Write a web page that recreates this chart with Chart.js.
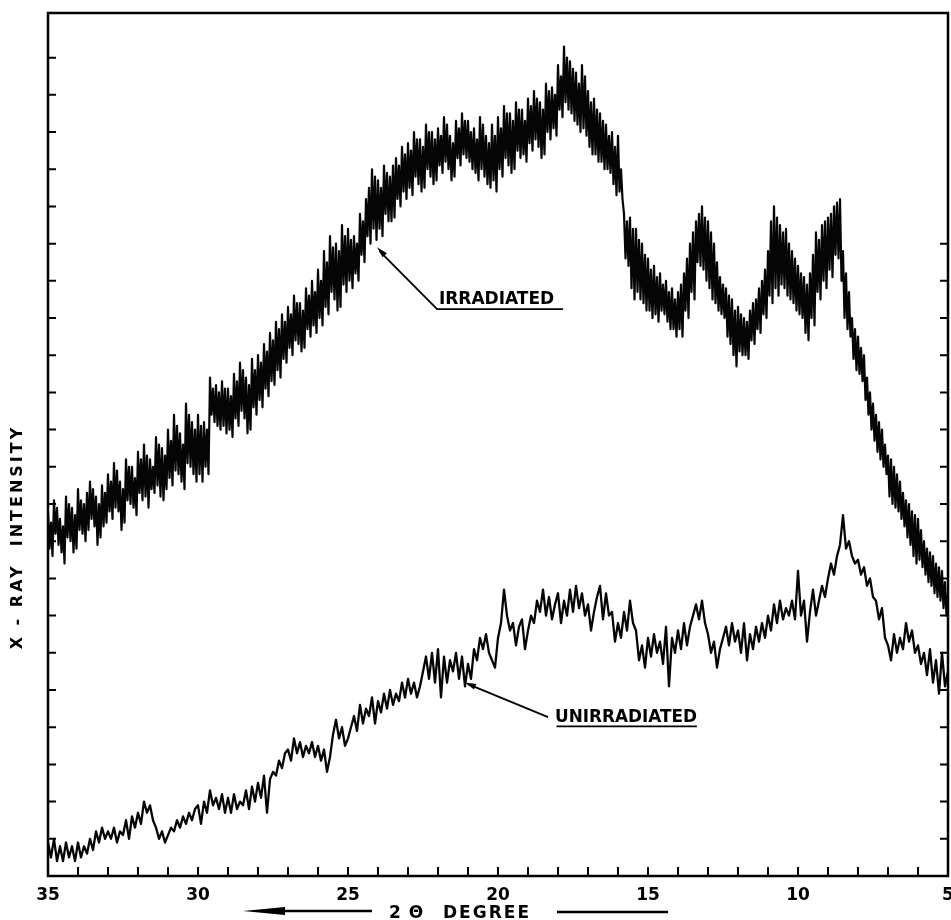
<!DOCTYPE html>
<html>
<head>
<meta charset="utf-8">
<script src="https://cdn.jsdelivr.net/npm/chart.js@4.4.1/dist/chart.umd.min.js"></script>
<style>
  html, body { margin: 0; padding: 0; background: #fff; }
  #wrap { position: relative; width: 951px; height: 920px; }
</style>
</head>
<body>
<div id="wrap"><canvas id="xrd-chart"></canvas></div>
<script>
// 2-theta runs from 35 down to 5 deg
var startDeg = 35;
var irradiatedStep = 0.05;   // irradiated trace read every 0.05 deg
var unirradiatedStep = 0.1;  // unirradiated trace read every 0.1 deg

// intensity, arbitrary units (10 units = one tick division)
var irradiated = [
    98, 88, 95, 86, 101, 92, 99, 89, 96, 87, 94, 84, 102, 91, 100, 90, 99, 87, 97, 88,
    104, 93, 101, 92, 100, 90, 103, 93, 106, 96, 104, 94, 102, 89, 100, 91, 105, 94, 103, 95,
    108, 98, 106, 96, 111, 99, 109, 98, 106, 93, 104, 95, 112, 101, 110, 100, 110, 99, 107, 97,
    114, 103, 112, 101, 116, 102, 113, 99, 112, 104, 110, 103, 118, 105, 116, 102, 115, 101, 113, 104,
    120, 107, 117, 105, 124, 109, 121, 108, 119, 106, 116, 104, 127, 111, 124, 110, 122, 108, 120, 106,
    124, 108, 121, 106, 122, 110, 120, 108, 134, 124, 131, 122, 132, 121, 130, 120, 133, 121, 131, 119,
    131, 120, 129, 118, 135, 123, 133, 121, 138, 125, 136, 123, 134, 119, 132, 120, 139, 126, 136, 124,
    140, 128, 138, 126, 143, 131, 141, 129, 146, 133, 144, 132, 149, 136, 147, 134, 151, 139, 149, 138,
    153, 142, 151, 140, 156, 144, 154, 143, 154, 141, 152, 142, 158, 147, 156, 145, 160, 148, 157, 146,
    163, 150, 160, 148, 168, 153, 165, 151, 172, 157, 169, 155, 170, 152, 168, 153, 175, 159, 172, 157,
    174, 160, 171, 158, 172, 162, 170, 160, 178, 167, 176, 165, 182, 172, 185, 170, 190, 174, 188, 171,
    187, 174, 185, 172, 191, 178, 189, 176, 188, 176, 191, 177, 193, 182, 191, 180, 196, 184, 194, 182,
    197, 185, 195, 183, 200, 188, 198, 186, 198, 184, 196, 185, 202, 190, 200, 188, 200, 186, 198, 187,
    201, 191, 199, 189, 204, 192, 202, 190, 199, 187, 197, 188, 203, 193, 201, 191, 205, 194, 203, 193,
    203, 192, 200, 190, 201, 189, 198, 187, 204, 190, 202, 188, 199, 186, 197, 185, 202, 187, 199, 184,
    204, 190, 201, 188, 207, 193, 205, 191, 205, 189, 203, 190, 208, 195, 206, 193, 206, 194, 203, 192,
    209, 197, 207, 195, 211, 198, 209, 196, 208, 193, 206, 194, 213, 200, 211, 198, 212, 201, 210, 199,
    218, 206, 215, 204, 223, 208, 220, 206, 219, 205, 217, 203, 216, 202, 213, 200, 218, 201, 215, 199,
    211, 196, 208, 194, 209, 194, 206, 192, 205, 192, 203, 190, 202, 190, 199, 189, 200, 186, 196, 183,
    199, 184, 190, 182, 178, 166, 176, 164, 177, 158, 174, 155, 174, 157, 171, 155, 170, 154, 167, 152,
    166, 152, 163, 150, 164, 151, 161, 149, 162, 152, 159, 151, 160, 149, 157, 147, 158, 147, 155, 145,
    157, 147, 159, 145, 162, 152, 166, 150, 170, 157, 173, 155, 176, 165, 178, 164, 180, 163, 177, 160,
    176, 158, 173, 155, 170, 154, 165, 152, 161, 151, 159, 150, 158, 145, 156, 143, 155, 140, 152, 137,
    153, 141, 151, 140, 150, 140, 149, 139, 152, 144, 154, 143, 155, 147, 158, 146, 160, 151, 163, 150,
    168, 156, 176, 154, 180, 158, 177, 156, 175, 159, 173, 158, 174, 156, 170, 155, 168, 154, 166, 152,
    164, 151, 162, 150, 161, 146, 159, 144, 162, 150, 167, 148, 173, 157, 171, 155, 175, 160, 176, 158,
    177, 163, 178, 161, 180, 167, 181, 166, 182, 160, 168, 150, 162, 147, 157, 145, 150, 139, 147, 136,
    145, 135, 142, 133, 140, 128, 134, 124, 130, 120, 127, 117, 124, 114, 122, 112, 120, 110, 116, 108,
    113, 102, 112, 100, 110, 99, 108, 98, 106, 96, 103, 94, 101, 91, 100, 89, 98, 86, 97, 84,
    96, 85, 93, 83, 90, 81, 88, 79, 87, 78, 86, 76, 84, 75, 83, 74, 82, 72, 79, 70,
    76
];

var unirradiated = [
    9, 5, 10, 4, 8, 4, 9, 5, 8, 4,
    9, 5, 8, 6, 10, 7, 12, 9, 13, 10,
    12, 10, 13, 9, 12, 11, 15, 10, 16, 13,
    17, 14, 20, 17, 19, 15, 13, 10, 12, 9,
    11, 13, 12, 15, 13, 16, 14, 17, 15, 18,
    19, 14, 20, 17, 23, 19, 21, 18, 22, 17,
    21, 17, 22, 18, 20, 19, 23, 18, 24, 20,
    25, 21, 27, 17, 26, 28, 27, 31, 29, 33,
    34, 31, 37, 33, 36, 32, 35, 33, 36, 32,
    35, 31, 34, 28, 32, 38, 42, 37, 40, 35,
    37, 40, 43, 39, 46, 41, 45, 43, 48, 41,
    47, 44, 49, 45, 50, 46, 49, 47, 52, 48,
    53, 49, 52, 48, 51, 55, 59, 53, 60, 52,
    61, 48, 59, 52, 58, 55, 60, 53, 59, 51,
    57, 53, 61, 58, 64, 61, 65, 60, 58, 56,
    64, 68, 77, 70, 66, 68, 62, 67, 69, 61,
    66, 70, 68, 74, 71, 77, 70, 75, 69, 73,
    76, 68, 74, 70, 77, 71, 78, 72, 76, 70,
    73, 66, 71, 75, 78, 69, 76, 70, 71, 63,
    68, 64, 71, 66, 74, 68, 66, 58, 62, 56,
    64, 59, 65, 60, 63, 57, 67, 51, 64, 60,
    66, 61, 68, 62, 67, 70, 73, 69, 74, 68,
    65, 60, 63, 56, 61, 64, 67, 62, 68, 63,
    66, 60, 68, 58, 65, 61, 67, 63, 68, 64,
    70, 66, 73, 68, 74, 69, 72, 70, 74, 69,
    82, 70, 74, 63, 71, 77, 70, 74, 78, 75,
    80, 84, 81, 86, 89, 97, 88, 90, 86, 84,
    85, 81, 83, 78, 80, 75, 74, 69, 72, 64,
    62, 58, 65, 60, 64, 61, 68, 63, 66, 60,
    62, 57, 60, 54, 61, 52, 58, 49, 60, 51,
    55
];

var degreeLabels = [35, 30, 25, 20, 15, 10, 5];
var degreeMinorTicks = [34, 33, 32, 31, 30, 29, 28, 27, 26, 25, 24, 23, 22, 21, 20,
                        19, 18, 17, 16, 15, 14, 13, 12, 11, 10, 9, 8, 7, 6];
var leftTicks = [10, 20, 30, 40, 50, 60, 70, 80, 90, 100, 110, 120, 130, 140, 150,
                 160, 170, 180, 190, 200, 210, 220];
var rightTicks = [10, 20, 30, 40, 50, 60, 70, 80, 90, 100, 110, 120, 130, 140, 150, 160, 170];

function toPoints(values, step) {
    return values.map(function(v, i) {
        return { x: +(startDeg - i * step).toFixed(2), y: v };
    });
}

var FONT = '"DejaVu Sans", "Liberation Sans", sans-serif';

function arrowHead(ctx, fromX, fromY, tipX, tipY, len, half) {
    var ang = Math.atan2(tipY - fromY, tipX - fromX);
    ctx.beginPath();
    ctx.moveTo(tipX, tipY);
    ctx.lineTo(tipX - len * Math.cos(ang) + half * Math.sin(ang), tipY - len * Math.sin(ang) - half * Math.cos(ang));
    ctx.lineTo(tipX - len * Math.cos(ang) - half * Math.sin(ang), tipY - len * Math.sin(ang) + half * Math.cos(ang));
    ctx.closePath();
    ctx.fill();
}

var paperFrame = {
    id: 'paperFrame',
    afterDraw: function(chart) {
        var ctx = chart.ctx, a = chart.chartArea;
        var xs = chart.scales.x, ys = chart.scales.y;
        var px = function(d) { return xs.getPixelForValue(d); };
        var py = function(v) { return ys.getPixelForValue(v); };

        ctx.save();
        ctx.strokeStyle = '#000';
        ctx.fillStyle = '#000';

        // frame
        ctx.lineWidth = 2.5;
        ctx.strokeRect(a.left, a.top, a.right - a.left, a.bottom - a.top);

        // inward ticks
        ctx.lineWidth = 2;
        ctx.beginPath();
        leftTicks.forEach(function(v) { ctx.moveTo(a.left, py(v)); ctx.lineTo(a.left + 8, py(v)); });
        rightTicks.forEach(function(v) { ctx.moveTo(a.right, py(v)); ctx.lineTo(a.right - 8, py(v)); });
        degreeMinorTicks.forEach(function(d) { ctx.moveTo(px(d), a.bottom); ctx.lineTo(px(d), a.bottom - 9); });
        ctx.stroke();

        // IRRADIATED label
        ctx.font = 'bold 17px ' + FONT;
        ctx.textAlign = 'left';
        ctx.textBaseline = 'alphabetic';
        ctx.fillText('IRRADIATED', px(21.97), py(153.8), 120);
        ctx.lineWidth = 1.8;
        ctx.beginPath();
        ctx.moveTo(px(17.83), py(152.4));
        ctx.lineTo(px(22.03), py(152.4));
        ctx.lineTo(px(23.95), py(168.0));
        ctx.stroke();
        arrowHead(ctx, px(22.03), py(152.4), px(24.03), py(169.0), 11, 3);

        // UNIRRADIATED label
        ctx.fillText('UNIRRADIATED', px(18.1), py(41.4), 142);
        ctx.beginPath();
        ctx.moveTo(px(18.05), py(40.2));
        ctx.lineTo(px(13.37), py(40.2));
        ctx.stroke();
        ctx.beginPath();
        ctx.moveTo(px(18.33), py(42.7));
        ctx.lineTo(px(21.0), py(51.6));
        ctx.stroke();
        arrowHead(ctx, px(18.33), py(42.7), px(21.1), py(52.0), 11, 3);

        // x title with arrows
        var ty = a.bottom + 42;
        ctx.font = 'bold 17px ' + FONT;
        ctx.textAlign = 'center';
        ctx.fillText('2', 395, ty);
        ctx.fillText('\u0398', 416, ty);
        ctx.textAlign = 'left';
        ctx.letterSpacing = '2px';
        ctx.fillText('DEGREE', 443, ty);
        ctx.letterSpacing = '0px';
        ctx.lineWidth = 2.5;
        ctx.beginPath();
        ctx.moveTo(280, ty - 7);
        ctx.lineTo(372, ty - 7);
        ctx.moveTo(557, ty - 6);
        ctx.lineTo(668, ty - 6);
        ctx.stroke();
        arrowHead(ctx, 300, ty - 7, 243, ty - 7, 42, 4);

        // y title
        ctx.save();
        ctx.translate(18, 537);
        ctx.rotate(-Math.PI / 2);
        ctx.font = 'bold 16px ' + FONT;
        ctx.letterSpacing = '3px';
        ctx.textAlign = 'center';
        ctx.textBaseline = 'middle';
        ctx.fillText('X - RAY  INTENSITY', 0, 0);
        ctx.restore();

        ctx.restore();
    }
};

var ctx = document.getElementById('xrd-chart').getContext('2d');
var xrdChart = new Chart(ctx, {
    type: 'line',
    data: {
        datasets: [
            {
                label: 'Irradiated',
                data: toPoints(irradiated, irradiatedStep),
                borderColor: '#050505',
                borderWidth: 2.2,
                borderJoinStyle: 'round',
                pointRadius: 0,
                tension: 0,
                fill: false
            },
            {
                label: 'Unirradiated',
                data: toPoints(unirradiated, unirradiatedStep),
                borderColor: '#050505',
                borderWidth: 2.3,
                borderJoinStyle: 'round',
                pointRadius: 0,
                tension: 0,
                fill: false
            }
        ]
    },
    options: {
        responsive: true,
        maintainAspectRatio: false,
        animation: false,
        devicePixelRatio: 1,
        layout: { padding: { left: 0, right: 3, top: 13, bottom: 0 } },
        scales: {
            x: {
                type: 'linear',
                reverse: true,
                min: 5,
                max: 35,
                grid: { display: false, drawTicks: false },
                border: { display: false },
                ticks: {
                    autoSkip: false,
                    maxRotation: 0,
                    padding: 9,
                    color: '#000',
                    font: { family: FONT, size: 17, weight: 'bold' }
                },
                afterBuildTicks: function(scale) {
                    scale.ticks = degreeLabels.map(function(v) { return { value: v }; });
                },
                afterFit: function(scale) {
                    scale.height = 44;
                    scale.paddingLeft = 0;
                    scale.paddingRight = 0;
                }
            },
            y: {
                min: 0,
                max: 232,
                grid: { display: false, drawTicks: false },
                border: { display: false },
                ticks: { display: false },
                afterFit: function(scale) {
                    scale.width = 48;
                    scale.paddingTop = 0;
                    scale.paddingBottom = 0;
                }
            }
        },
        plugins: {
            legend: { display: false },
            tooltip: { enabled: false }
        }
    },
    plugins: [paperFrame]
});
</script>
</body>
</html>
